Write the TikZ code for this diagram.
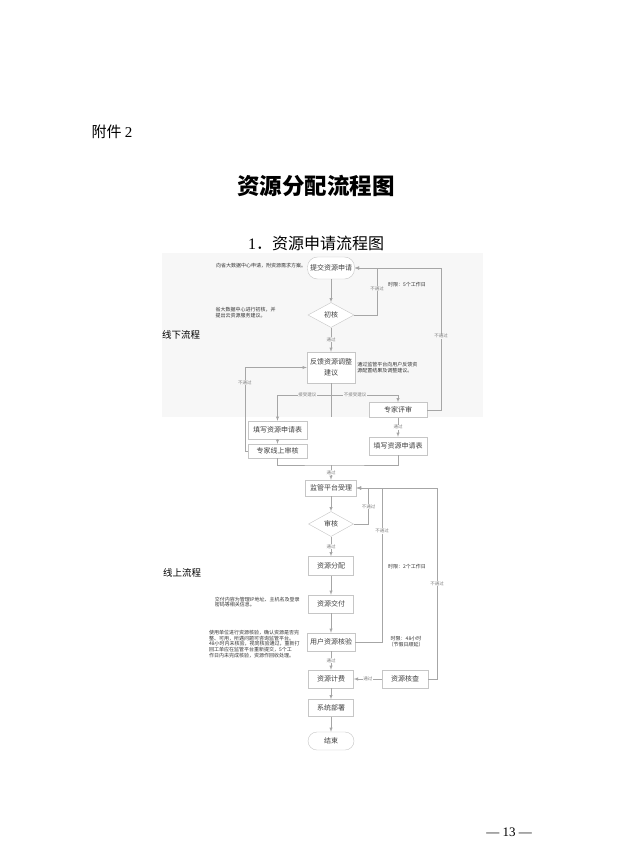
\documentclass[tikz,border=0pt]{standalone}
\usepackage{fontspec}
\setmainfont{Noto Sans CJK SC}
\newfontfamily\pagefont{Liberation Serif}
\usetikzlibrary{arrows,calc,positioning,shapes.geometric}
\definecolor{bggray}{gray}{0.97}
\newcommand{\fsize}[2]{\fontsize{#1pt}{#2pt}\selectfont}
\tikzset{%
	startstop/.style= {draw=gray!45, rectangle, rounded corners=10pt, minimum width=47pt, minimum height=22pt, text centered, fill=white, text=black!75, font=\fsize{7}{8}, inner sep=1pt},
	process/.style  = {draw=gray!45, rectangle, minimum width=46pt, minimum height=18pt, text centered, fill=white, text=black!75, font=\fsize{7}{8}, inner sep=1pt},
	decision/.style = {draw=gray!45, diamond, minimum width=46pt, minimum height=25pt, aspect=1.8, inner sep=0pt, text centered, fill=white, text=black!75, font=\fsize{7}{8}},
	arrow/.style    = {draw=gray!70, line width=0.5pt, -latex},
	link/.style     = {draw=gray!70, line width=0.5pt},
	note/.style     = {font=\fsize{5}{5.8}, text=black!80, align=left, inner sep=0pt},
	lbl/.style      = {font=\fsize{4.5}{5}, text=gray, fill=white, inner sep=0.6pt},
}
\begin{document}
\begin{tikzpicture}[x=1pt, y=-1pt]
		\useasboundingbox (0,0) rectangle (619,854);
		\fill[white] (0,0) rectangle (619,854);
		\fill[bggray] (162,253) rectangle (483,417);
		
		\node[anchor=west, font=\fsize{15}{18}] (att) at (88,132) {附件 {\pagefont 2}};
		\node[font=\fsize{22.5}{26}\bfseries] (title) at (316,186) {资源分配流程图};
		\node[font=\fsize{16}{19}] (subtitle) at (316,243) {{\pagefont 1}．资源申请流程图};
		\node[font=\fsize{9.5}{11}] (offline) at (181,335) {线下流程};
		\node[font=\fsize{9.5}{11}] (online) at (182,573) {线上流程};
		\node[font=\fsize{13}{15}\pagefont] (page) at (509,832) {— 13 —};
		
		% offline part
		\node[startstop] (sub) at (331,268) {提交资源申请};
		\node[decision, below of=sub, node distance=47pt] (chk1) {初核};
		\node[process, below of=chk1, node distance=52.5pt, minimum width=48pt, minimum height=31pt, align=center, font=\fsize{7}{10.5}] (fb) {反馈资源调整\\建议};
		\node[process, below of=fb, node distance=42.5pt, xshift=67pt, minimum width=58pt, minimum height=15pt] (exp) {专家评审};
		\node[process, below of=fb, node distance=62.5pt, xshift=-53.5pt, minimum width=59pt] (formL) {填写资源申请表};
		\node[process, below of=formL, node distance=21pt, minimum width=59pt, minimum height=14pt] (expOn) {专家线上审核};
		\node[process, below of=exp, node distance=36pt, minimum width=58pt] (formR) {填写资源申请表};
		
		% online part
		\node[process, below of=fb, node distance=120.5pt, minimum width=51pt, minimum height=16pt] (acc) {监管平台受理};
		\node[decision, below of=acc, node distance=36pt, minimum width=45pt] (chk2) {审核};
		\node[process, below of=chk2, node distance=42pt, minimum width=45pt, minimum height=19pt] (alloc) {资源分配};
		\node[process, below of=alloc, node distance=38pt, minimum width=45pt] (deliv) {资源交付};
		\node[process, below of=deliv, node distance=38pt, minimum width=48pt] (verify) {用户资源核验};
		\node[process, below of=verify, node distance=37pt, minimum width=45pt] (bill) {资源计费};
		\node[process, right of=bill, node distance=74pt, minimum width=46pt] (inspect) {资源核查};
		\node[process, below of=bill, node distance=29pt, minimum width=45pt, minimum height=17pt] (deploy) {系统部署};
		\node[startstop, below of=deploy, node distance=33pt, minimum width=46pt, minimum height=18pt, rounded corners=9pt] (end) {结束};
		
		% notes
		\node[note, left=1pt of sub, yshift=2pt] (nsub) {向省大数据中心申请，附资源需求方案。};
		\node[note, left=32pt of chk1, yshift=2.5pt] (nchk1) {省大数据中心进行初核，并\\提出云资源服务建议。};
		\node[note, right=2pt of fb] (nfb) {通过监管平台向用户反馈资\\源配置结果及调整建议。};
		\node[note] (t5) at (407,285) {时限：5个工作日};
		\node[note] (t2) at (407,567) {时限：2个工作日};
		\node[note, align=center] (t48) at (406,642) {时限：48小时\\（节假日顺延）};
		\node[note, left=8.5pt of deliv, yshift=2pt] (ndeliv) {交付内容为管理IP地址、主机名及登录\\密码等相关信息。};
		\node[note, left=7pt of verify, yshift=-2pt] (nverify) {使用单位进行资源核验，确认资源是否完\\整、可用，所遇问题可咨询监管平台。\\48小时内未核验，视同核验通过，重新打\\回工单应在监管平台重新提交，5个工\\作日内未完成核验，资源作回收处理。};
		
		\coordinate (split) at (331,395);
		\coordinate (stub) at (331,417);
		\coordinate (merge) at (331,465);
		
		% offline connectors
		\draw[arrow] (sub) -- (chk1);
		\draw[arrow] (chk1.east) -- ++(23,0) |- node[lbl, fill=bggray, pos=0.28] {不通过} (sub.east);
		\draw[arrow] (chk1) -- node[lbl, fill=bggray] {通过} (fb);
		\draw[link] (fb.south) -- (stub);
		\draw[arrow] (split) -| node[lbl, fill=bggray, pos=0.22] {接受建议} (formL.north);
		\draw[arrow] (split) -| node[lbl, fill=bggray, pos=0.18] {不接受建议} (exp.north);
		\draw[arrow] (formL) -- (expOn);
		\draw[arrow] (expOn.west) -- ++(-3,0) |- node[lbl, fill=bggray, pos=0.41] {不通过} (fb.west);
		\draw[arrow] (exp.east) -- ++(14,0) |- node[lbl, fill=bggray, pos=0.26] {不通过} (sub.east);
		\draw[arrow] (exp) -- node[lbl] {通过} (formR);
		\draw[link] (expOn.south) |- (merge) -| (formR.south);
		\draw[arrow] (merge) -- node[lbl] {通过} (acc);
		
		% online connectors
		\draw[arrow] (acc) -- (chk2);
		\draw[arrow] (chk2.east) -- ++(15,0) |- node[lbl, pos=0.24] {不通过} (acc.east);
		\draw[arrow] (chk2) -- node[lbl] {通过} (alloc);
		\draw[arrow] (alloc) -- (deliv);
		\draw[arrow] (deliv) -- (verify);
		\draw[arrow] (verify.east) -- ++(27,0) |- node[lbl, pos=0.36] {不通过} (acc.east);
		\draw[arrow] (verify) -- node[lbl] {通过} (bill);
		\draw[arrow] (inspect) -- node[lbl] {通过} (bill);
		\draw[arrow] (inspect.east) -- ++(9,0) |- node[lbl, pos=0.25] {不通过} (acc.east);
		\draw[arrow] (bill) -- (deploy);
		\draw[arrow] (deploy) -- (end);
		\end{tikzpicture}
\end{document}
